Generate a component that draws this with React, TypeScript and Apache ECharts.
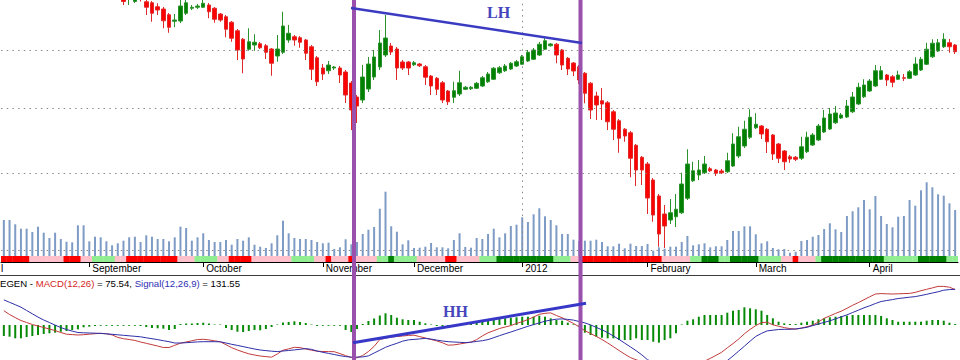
import React, { useEffect, useRef } from "react";
import * as echarts from "echarts";

// [open, close, low, high]
const candles: number[][] = [
  [2290, 2270, 2255, 2300], [2268, 2240, 2230, 2275], [2242, 2250, 2232, 2262], [2248, 2215, 2208, 2255],
  [2214, 2190, 2180, 2222], [2192, 2205, 2185, 2215], [2204, 2170, 2162, 2210], [2168, 2150, 2140, 2176],
  [2150, 2162, 2142, 2170], [2160, 2130, 2122, 2166], [2128, 2110, 2100, 2136], [2112, 2120, 2102, 2128],
  [2118, 2095, 2088, 2124], [2094, 2070, 2062, 2100], [2072, 2082, 2064, 2090], [2080, 2060, 2052, 2088],
  [2058, 2066, 2050, 2074], [2064, 2048, 2040, 2070], [2046, 2054, 2038, 2062], [2052, 2036, 2028, 2058],
  [2034, 2040, 2026, 2048], [2016, 1994, 1980, 2032], [2006, 2030, 1980, 2040], [1994, 2012, 1988, 2024],
  [2030, 2008, 1994, 2036], [1993, 1971, 1940, 2004], [1989, 1947, 1913, 1996], [1973, 1960, 1940, 1987],
  [1964, 1917, 1887, 1972], [1941, 1891, 1869, 1948], [1915, 1920, 1891, 1944], [1916, 1976, 1908, 2000],
  [1947, 1989, 1940, 2004], [1967, 1971, 1960, 1980], [1971, 1976, 1964, 1984], [1971, 1987, 1968, 2000],
  [1980, 1953, 1927, 1988], [1967, 1923, 1909, 1972], [1944, 1920, 1913, 1948], [1933, 1883, 1851, 1940],
  [1911, 1847, 1833, 1916], [1877, 1800, 1760, 1884], [1843, 1764, 1707, 1848], [1803, 1833, 1797, 1887],
  [1820, 1831, 1797, 1863], [1825, 1809, 1804, 1832], [1817, 1791, 1764, 1824], [1804, 1747, 1697, 1808],
  [1776, 1804, 1753, 1860], [1791, 1896, 1784, 1953], [1840, 1867, 1829, 1900], [1853, 1840, 1817, 1860],
  [1849, 1831, 1809, 1856], [1840, 1787, 1760, 1844], [1813, 1723, 1680, 1820], [1769, 1673, 1656, 1776],
  [1728, 1704, 1680, 1744], [1717, 1740, 1704, 1756], [1728, 1732, 1720, 1736], [1728, 1700, 1668, 1736],
  [1712, 1620, 1588, 1720], [1668, 1560, 1480, 1676], [1612, 1576, 1508, 1620], [1600, 1692, 1588, 1740],
  [1644, 1744, 1632, 1772], [1692, 1772, 1680, 1800], [1732, 1828, 1720, 1880], [1780, 1848, 1772, 1940],
  [1816, 1792, 1780, 1828], [1804, 1728, 1680, 1812], [1752, 1728, 1720, 1760], [1752, 1728, 1700, 1756],
  [1741, 1749, 1736, 1756], [1744, 1737, 1732, 1748], [1733, 1691, 1660, 1740], [1696, 1656, 1620, 1700],
  [1687, 1643, 1620, 1692], [1669, 1600, 1588, 1676], [1636, 1593, 1580, 1640], [1611, 1637, 1588, 1673],
  [1624, 1669, 1616, 1717], [1643, 1651, 1640, 1656], [1645, 1651, 1640, 1656], [1647, 1667, 1644, 1672],
  [1656, 1689, 1652, 1696], [1673, 1704, 1668, 1712], [1683, 1727, 1680, 1732], [1709, 1729, 1704, 1736],
  [1717, 1736, 1712, 1744], [1724, 1747, 1720, 1752], [1736, 1753, 1732, 1760], [1743, 1773, 1740, 1780],
  [1756, 1791, 1752, 1800], [1763, 1800, 1760, 1808], [1780, 1823, 1776, 1832], [1803, 1837, 1800, 1847],
  [1817, 1824, 1814, 1828], [1823, 1780, 1747, 1828], [1800, 1740, 1720, 1804], [1767, 1724, 1700, 1772],
  [1748, 1716, 1696, 1752], [1733, 1680, 1664, 1740], [1707, 1627, 1587, 1712], [1667, 1560, 1524, 1672],
  [1616, 1580, 1520, 1633], [1597, 1584, 1520, 1648], [1589, 1513, 1480, 1596], [1553, 1483, 1440, 1560],
  [1517, 1447, 1389, 1524], [1483, 1456, 1433, 1488], [1469, 1367, 1291, 1476], [1419, 1320, 1256, 1424],
  [1371, 1320, 1260, 1376], [1344, 1208, 1144, 1352], [1280, 1140, 1113, 1288], [1216, 1064, 1013, 1224],
  [1144, 1096, 1008, 1180], [1120, 1149, 1104, 1204], [1133, 1163, 1092, 1224], [1149, 1264, 1144, 1309],
  [1207, 1344, 1200, 1403], [1277, 1317, 1272, 1353], [1300, 1320, 1280, 1360], [1309, 1344, 1304, 1376],
  [1325, 1317, 1312, 1332], [1320, 1307, 1296, 1324], [1316, 1309, 1304, 1324], [1313, 1357, 1308, 1389],
  [1336, 1424, 1332, 1467], [1376, 1453, 1368, 1493], [1416, 1483, 1408, 1517], [1451, 1531, 1444, 1563],
  [1489, 1503, 1484, 1547], [1496, 1464, 1444, 1500], [1483, 1433, 1388, 1488], [1460, 1384, 1360, 1464],
  [1424, 1367, 1348, 1428], [1396, 1353, 1320, 1400], [1373, 1364, 1349, 1380], [1371, 1363, 1356, 1376],
  [1367, 1413, 1360, 1453], [1393, 1451, 1388, 1473], [1420, 1460, 1416, 1468], [1440, 1496, 1436, 1504],
  [1472, 1528, 1468, 1560], [1484, 1544, 1480, 1568], [1509, 1548, 1504, 1576], [1528, 1540, 1524, 1548],
  [1532, 1576, 1528, 1600], [1553, 1612, 1548, 1632], [1584, 1651, 1580, 1669], [1613, 1660, 1608, 1683],
  [1636, 1676, 1632, 1684], [1656, 1717, 1652, 1740], [1683, 1717, 1680, 1736], [1700, 1680, 1656, 1704],
  [1693, 1671, 1651, 1700], [1683, 1700, 1680, 1717], [1689, 1687, 1676, 1704], [1687, 1713, 1684, 1720],
  [1700, 1744, 1696, 1771], [1720, 1763, 1716, 1772], [1743, 1803, 1740, 1829], [1773, 1827, 1768, 1843],
  [1796, 1829, 1792, 1844], [1813, 1843, 1808, 1867], [1829, 1813, 1789, 1844], [1820, 1793, 1784, 1824],
];

const volumes: number[] = [
  36, 36, 31.7, 27.3, 27.3, 24, 29.3, 23.3, 18, 23.3,
  17, 14.3, 13.7, 30.7, 30.7, 14.7, 19.3, 18.7, 14.7, 10.7,
  12.7, 15.3, 18.7, 19.3, 14, 20.7, 19.3, 17, 17, 14.7,
  18.7, 29.3, 28, 15.3, 18.7, 22.7, 16, 14, 14, 16,
  11.3, 17, 15.3, 18.7, 11.3, 9.3, 8, 12.7, 20.7, 35.3,
  22.7, 18, 17, 17, 16, 14,
  12.7, 13.3, 7, 8.7, 16.7, 11.7, 14, 22, 26.3, 29,
  47.3, 64.3, 29.7, 24.3, 11.7, 15.7, 8, 8.3, 9.3, 13,
  8.7, 8.7, 7.7, 16, 22.7, 9, 8.3, 18, 17, 22,
  27.3, 18.7, 22.7, 30, 31.3, 38.7, 34, 41.7, 47.7, 39.7,
  36, 30.7, 22, 22, 16.3, 15, 15.3, 15.3, 16.3, 14,
  9.7, 9.7, 12.3, 7.7, 12.3, 10,
  10, 12, 5.3, 8.7, 7.3, 9.3, 9.3, 14, 20, 10.7,
  11.7, 12.7, 8.7, 9.7, 9.7, 16, 25, 25, 29.7, 29.7,
  21.7, 12.7, 14.7, 8, 6.7, 7, 3.3, 4.3, 15, 16,
  19.3, 21, 27, 32.7, 26.7, 24, 40, 44.7, 48.7, 56,
  46.7, 60, 40, 32, 28.7, 39.3, 40, 56, 50.3, 65.7,
  73.7, 68.7, 61.7, 60.3, 52.7, 46,
];

// trend strip: [state, number of days]
const stripRuns: [string, number][] = [
  ["R", 5], ["P", 6], ["R", 3], ["P", 2], ["L", 4], ["P", 2], ["R", 9], ["P", 3], ["L", 4], ["P", 2],
  ["R", 4], ["P", 7], ["L", 4], ["P", 2], ["R", 1], ["P", 3], ["R", 1], ["P", 4], ["L", 2], ["G", 1],
  ["L", 4], ["P", 5], ["R", 2], ["P", 4], ["L", 3], ["G", 10], ["L", 3], ["P", 2], ["R", 14], ["P", 5],
  ["L", 2], ["G", 3], ["L", 2], ["G", 5], ["L", 4], ["P", 2], ["R", 1], ["P", 3], ["L", 1], ["G", 11],
  ["L", 6], ["G", 5], ["L", 2],
];
const stripColors: Record<string, string> = { R: "#ff0000", P: "#ffc0cb", L: "#90ee90", G: "#008000" };

const macdLine: number[] = [
  14.3, 10.5, 7.4, 4.5, 2.5, 0.5, -1, -2.5, -4, -5.6,
  -7.5, -9.2, -9.6, -10, -9.7, -9.2, -8.7, -8.3, -8.8, -9.9,
  -12.4, -13.7, -14.5, -15.4, -17, -18.3, -19.7, -21, -22.5, -22.5,
  -20.3, -18.2, -17, -15.8, -14.5, -14.3, -14.9, -15.8, -16.8, -19.7,
  -22.7, -25, -27, -28.8, -30, -31, -31.6, -32.2, -29, -25.2,
  -23.9, -22.3, -22.6, -24, -25.2, -26.2, -26.5, -26.6, -26.7, -28.6,
  -30.6, -32.5, -32.8, -30.5, -26.5, -21.4, -14.5, -13.2, -12, -11.5,
  -11, -10.4, -10.2, -11.6, -13, -14.5, -15.9, -17.8, -20.2, -19.9,
  -19, -18, -17.2, -14.6, -10.9, -7.8, -5.7, -3.5, -2, -0.6,
  1.6, 3.3, 5.5, 8, 10.7, 11.7, 12.1, 9.5, 7.3, 4.4,
  1.6, -2, -5.6, -8.6, -11.4, -14.5, -18, -21.7, -25.5, -29.2,
  -32.6, -34.8, -36.6, -38.6, -40.6, -42.6, -43.5, -44, -44.6, -44.5,
  -42.8, -41.1, -39.4, -36.2, -33.4, -30.4, -27.3, -22.8, -18.6, -14,
  -8.8, -4.4, -0.6, 2.4, 2.8, 0.2, -1.2, -2.6, -3.6, -4.2,
  -3.1, -1.7, -0.1, 3, 6.7, 9.1, 11.6, 13.8, 16.7, 19.7,
  22.4, 25.3, 28.2, 31, 31.4, 31.2, 31, 31.2, 31.4, 31.6,
  32.6, 34.3, 35.7, 37.1, 38.6, 38.6, 37.8, 35.5,
];

const signalLine: number[] = [
  25.1, 22.7, 20.3, 17.8, 14.5, 11.2, 7.9, 5, 2.5, -0.1,
  -2.6, -4.5, -6.1, -7.5, -7.8, -8, -8.2, -8.4, -8.8, -9.3,
  -9.8, -10.3, -10.8, -11.3, -11.8, -12.8, -13.7, -14.6, -15.7, -16.7,
  -18, -18, -17.7, -17.3, -16.9, -16.7, -16.7, -16.7, -16.8, -18,
  -19.3, -20.4, -21.6, -22.8, -24, -25, -25.6, -26.2, -26.6, -26,
  -25.5, -24.9, -24.3, -23.6, -24.4, -26, -27.3, -28.4, -29.5, -30.7,
  -31.6, -32.1, -32.1, -31.9, -30.9, -28, -25.2, -22.3, -20.2, -18.3,
  -16.2, -14.9, -14.4, -13.9, -13.4, -14.1, -15.1, -16, -16.7, -17,
  -17.3, -17.6, -17.2, -16.4, -15.7, -14.6, -12.7, -10.7, -8.8, -7,
  -5.1, -3.2, -1.3, 0.4, 2.1, 3.8, 4.9, 5.8, 6.1, 5.6,
  4.9, 3.5, 2.1, 0.1, -2.4, -4.8, -7.6, -11, -14.4, -18.2,
  -21.9, -25.7, -29.9, -34.7, -37.3, -39.9, -42.5, -45, -45.6, -46.2,
  -46.7, -47.3, -47.9, -46.7, -44.9, -43.2, -40.7, -35.6, -31, -26.1,
  -21.2, -16.2, -11.4, -8.4, -5.9, -5.2, -4.5, -4.3, -4.3, -3.9,
  -3.2, -2.3, -0.6, 1, 2.6, 4.2, 6.1, 8.2, 10.1, 12.5,
  14.8, 17.2, 19.2, 21.5, 23.5, 24.5, 25.4, 26.5, 27.1, 27.8,
  28.4, 29.5, 30.7, 32, 33.2, 34.8, 35.4, 35.7,
];

const histogram: number[] = [
  -11, -11.7, -13.3, -13.3, -12, -11, -10, -9, -8.3, -7.7,
  -6.7, -6, -5, -4.3, -2.3, -1.7, -1, -0.8, -0.8, -0.8,
  -0.8, -0.8, -0.8, -0.8, -1, -2, -3, -3.3, -3.7, -5,
  -4, 1, 1.5, 1.5, 2, 2.3, 1.5, 0.5, 0.5, -3,
  -5, -6.7, -7, -6, -5, -5.3, -4, -2, 0.5, 2.5,
  3, 3.7, 3, 2, 0.5, -1, -0.8, -0.8, -0.8, -0.8,
  -5, -7, -4, 1, 4, 6.5, 9.5, 11.7, 10, 7.3,
  5.7, 5, 5, 3.3, 1.7, 0.5, -1, -1.7, -2.3, -1,
  1, 2, 2.7, 3.3, 4.3, 5, 5.7, 6.3, 6.7, 7.3,
  7.7, 8.3, 8.3, 8.3, 9.3, 8.3, 6.7, 5, 4.3, 2.3,
  0.7, -0.7, -7.7, -10, -11.7, -12.7, -13.3, -13.3, -15, -15,
  -15, -13.3, -15, -15, -16.7, -17.7, -15, -13.3, -8.3, 0.5,
  4.3, 5.7, 8.3, 10, 10, 10, 10, 12.3, 14.3, 15,
  17.7, 16.7, 15.7, 14.3, 10, 6.7, 3.3, 1.7, 1, 1,
  2.3, 3.3, 4.3, 5.7, 6.7, 7.7, 8.3, 9, 9.3, 10,
  10, 10, 10, 10, 9, 6.7, 5, 3.3, 3.3, 3.3,
  3.3, 3.3, 4.3, 5, 5, 4.3, 2.3, 1,
];

const monthTicks: [number, string][] = [
  [15, "September"], [35, "October"], [56, "November"], [72, "December"],
  [91, "2012"], [113, "February"], [132, "March"], [152, "April"],
];
const priceGridLines: number[] = [1800, 1568, 1308, 1000];
const yearBoundaryIndex = 91;

const SANS = '"Liberation Sans", Arial, sans-serif';
const SERIF = '"Liberation Serif", "Times New Roman", serif';

function buildOption() {
  const categories = candles.map((_, i) => `Day ${i + 1}`);
  const tickMap = new Map<number, string>(monthTicks);
  const isTick = (index: number) => tickMap.has(index);
  const strip: { value: number; itemStyle: { color: string } }[] = [];
  stripRuns.forEach(([s, n]) => {
    for (let k = 0; k < n; k++) strip.push({ value: 1, itemStyle: { color: stripColors[s] } });
  });
  const hiddenX = (gridIndex: number) => ({
    type: "category" as const, gridIndex, data: categories, boundaryGap: true, show: false,
  });
  const hiddenY = (gridIndex: number, min: number, max: number) => ({
    type: "value" as const, gridIndex, min, max, show: false, splitLine: { show: false },
  });
  const dotted = { color: "#8a8a8a", width: 1, type: [1.5, 4.2] as number[] };
  return {
    animation: false,
    backgroundColor: "#ffffff",
    grid: [
      { left: 1, right: 2, top: 0, height: 256 },
      { left: 1, right: 2, top: 156, height: 100 },
      { left: 1, right: 2, top: 256, height: 6 },
      { left: 1, right: 2, top: 284, height: 76 },
    ],
    xAxis: [
      hiddenX(0),
      hiddenX(1),
      {
        type: "category", gridIndex: 2, data: categories, boundaryGap: true,
        axisLine: { show: true, lineStyle: { color: "#000", width: 1 } },
        axisTick: { show: true, interval: isTick, alignWithLabel: true, length: 5, lineStyle: { color: "#000" } },
        axisLabel: {
          show: true, interval: isTick, align: "left", margin: 1, padding: [0, 0, 0, 3],
          color: "#000", fontSize: 10, fontFamily: SANS,
          formatter: (_v: string, index: number) => tickMap.get(index) ?? "",
        },
        splitLine: { show: false },
      },
      hiddenX(3),
    ],
    yAxis: [hiddenY(0, 976, 2000), hiddenY(1, 0, 100), hiddenY(2, 0, 1), hiddenY(3, -35, 41)],
    series: [
      {
        type: "candlestick", xAxisIndex: 0, yAxisIndex: 0, data: candles, barWidth: 4,
        itemStyle: { color: "#008000", color0: "#ff0000", borderColor: "#2a922a", borderColor0: "#e02a2a", borderWidth: 1 },
        markLine: {
          silent: true, symbol: ["none", "none"], label: { show: false },
          lineStyle: dotted,
          data: [
            ...priceGridLines.map((v) => ({ yAxis: v, lineStyle: dotted })),
            { xAxis: categories[yearBoundaryIndex], lineStyle: dotted },
          ],
        },
      },
      {
        type: "bar", xAxisIndex: 1, yAxisIndex: 1, data: volumes, barWidth: 2,
        itemStyle: { color: "#7d9bc4" },
      },
      {
        type: "bar", xAxisIndex: 2, yAxisIndex: 2, data: strip, barWidth: 6,
      },
      {
        type: "bar", xAxisIndex: 3, yAxisIndex: 3, data: histogram, barWidth: 2,
        itemStyle: { color: "#078a07" },
      },
      {
        type: "line", xAxisIndex: 3, yAxisIndex: 3, data: macdLine, showSymbol: false, symbol: "none",
        lineStyle: { color: "#c23b3b", width: 1 },
      },
      {
        type: "line", xAxisIndex: 3, yAxisIndex: 3, data: signalLine, showSymbol: false, symbol: "none",
        lineStyle: { color: "#2e2ea8", width: 1 },
      },
    ],
    graphic: [
      { type: "line", z: 50, shape: { x1: 0, y1: 275.5, x2: 960, y2: 275.5 }, style: { stroke: "#3c3c3c", lineWidth: 1 } },
      { type: "text", z: 50, x: 1, y: 263, style: { text: "l", fill: "#000", fontSize: 10, fontFamily: SANS } },
      {
        type: "text", z: 50, x: 0, y: 283,
        style: {
          text: "{k|EGEN - }{r|MACD(12,26)}{k| = 75.54, }{b|Signal(12,26,9)}{k| = 131.55}",
          verticalAlign: "middle", fontSize: 9.6, fontFamily: SANS,
          rich: {
            k: { fill: "#000", fontSize: 9.6, fontFamily: SANS },
            r: { fill: "#d42424", fontSize: 9.6, fontFamily: SANS },
            b: { fill: "#2f2fb4", fontSize: 9.6, fontFamily: SANS },
          },
        },
      },
      { type: "line", z: 60, shape: { x1: 354, y1: 0, x2: 354, y2: 360 }, style: { stroke: "#9a50ad", lineWidth: 4 } },
      { type: "line", z: 60, shape: { x1: 580.5, y1: 0, x2: 580.5, y2: 360 }, style: { stroke: "#9a50ad", lineWidth: 4 } },
      { type: "line", z: 61, shape: { x1: 351, y1: 8, x2: 582, y2: 43 }, style: { stroke: "#3b3bc2", lineWidth: 2.5 } },
      { type: "line", z: 61, shape: { x1: 353, y1: 342.7, x2: 586, y2: 303.3 }, style: { stroke: "#3838c8", lineWidth: 3 } },
      {
        type: "text", z: 62, x: 487, y: 12,
        style: { text: "LH", fill: "#4646bc", fontSize: 16, fontWeight: "bold", fontFamily: SERIF, verticalAlign: "middle" },
      },
      {
        type: "text", z: 62, x: 443, y: 311,
        style: { text: "HH", fill: "#4646bc", fontSize: 16, fontWeight: "bold", fontFamily: SERIF, verticalAlign: "middle" },
      },
    ],
  };
}

export default function App() {
  const ref = useRef<HTMLDivElement>(null);
  useEffect(() => {
    document.body.style.margin = "0";
    if (!ref.current) return;
    const chart = echarts.init(ref.current, undefined, { renderer: "svg" });
    chart.setOption(buildOption() as any);
    return () => chart.dispose();
  }, []);
  return <div ref={ref} style={{ width: 960, height: 360, background: "#fff" }} />;
}
